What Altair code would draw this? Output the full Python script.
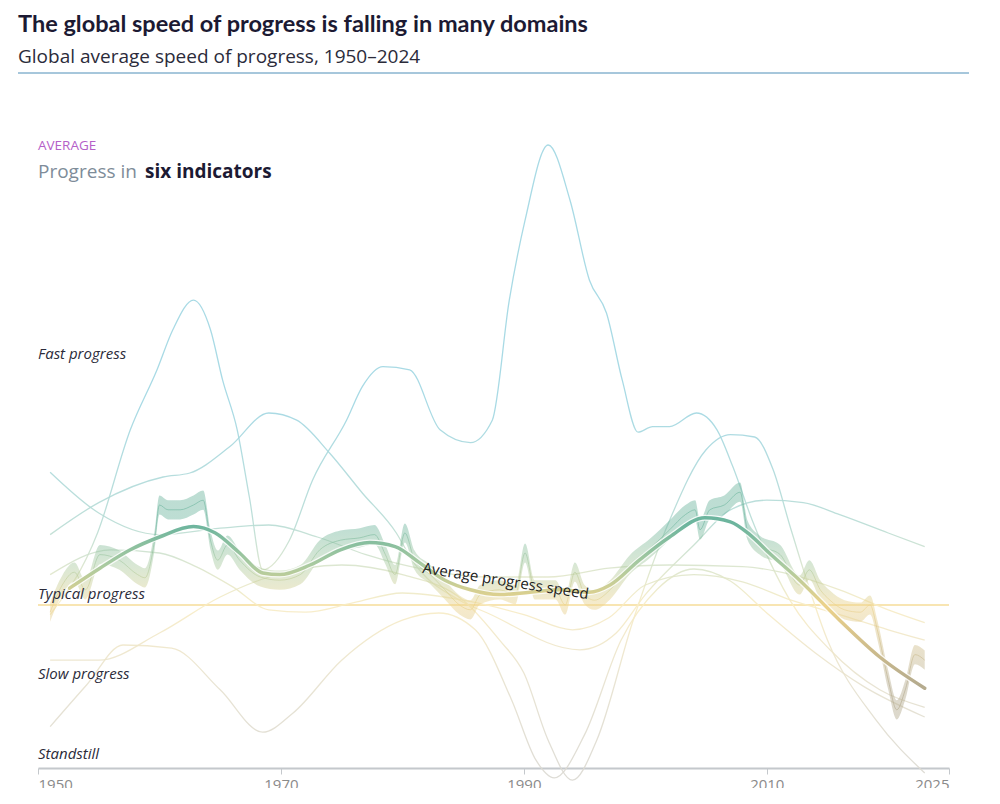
"""Global average speed of progress, 1950-2024."""

import altair as alt
import pandas as pd

# six indicators: (years, speed values)
L1_YEARS = [1951, 1954.9, 1957.6, 1959.8, 1961.1, 1962.8, 1964.2, 1965.2, 1966.4, 1967.4, 1968.5, 1970.7, 1972.6,
            1975.4, 1976.7, 1978.4, 1980.6, 1983.1, 1985.6, 1987.4, 1988.8, 1990.1, 1992.0, 1993.8, 1995.4, 1996.8,
            1998.1, 1999.4, 2000.6, 2002.0, 2004.2, 2005.9, 2007.2, 2008.8, 2011.9, 2015.2, 2019.3, 2023]
L1_VALUES = [1.88, 2.9, 4.19, 4.94, 5.44, 5.81, 5.44, 4.81, 4.19, 3.35, 2.44, 2.81, 3.56,
             4.31, 4.73, 4.98, 4.94, 4.19, 4.03, 4.31, 5.81, 6.81, 7.75, 7.06, 6.06, 5.65,
             4.81, 4.16, 4.23, 4.23, 4.40, 4.19, 3.73, 3.06, 2.06, 1.44, 0.94, 0.72]
L2_YEARS = [1951, 1954, 1957, 1961, 1965, 1968.5, 1971, 1975, 1980, 1983, 1986, 1989, 1991, 1992.5, 1995, 1998,
            2001, 2004, 2007, 2010, 2014, 2018, 2023]
L2_VALUES = [0.48, 1.0, 1.5, 1.46, 0.94, 0.41, 0.65, 1.31, 1.81, 1.9, 1.69, 0.81, 0.06, -0.16, 0.38, 1.56,
             2.2, 2.45, 2.3, 1.9, 1.4, 0.98, 0.6]
L3_YEARS = [1951, 1955, 1960, 1965, 1969, 1975, 1980, 1985, 1988, 1990, 1992, 1994, 1996, 1999, 2002, 2005,
            2007, 2009, 2010.5, 2012, 2015, 2019, 2023]
L3_VALUES = [1.31, 1.31, 1.65, 2.1, 2.35, 2.5, 2.38, 2.06, 1.56, 1.15, 0.31, -0.19, 0.31, 1.81, 3.06, 3.94,
             4.13, 4.1, 3.7, 2.94, 1.56, 0.56, -0.1]
L4_YEARS = [1951, 1955, 1960, 1965, 1969, 1973, 1977, 1982, 1987, 1992, 1997, 2002, 2008, 2012, 2016, 2020, 2023]
L4_VALUES = [3.66, 3.15, 2.88, 2.96, 3.0, 2.85, 2.63, 2.44, 2.35, 2.35, 2.46, 2.5, 2.48, 2.38, 2.19, 1.94, 1.78]
L5_YEARS = [1951, 1955, 1960.3, 1962.5, 1965.8, 1969, 1971.3, 1974, 1976.7, 1979.5, 1980.8, 1984.7, 1987, 1994.6,
            1997.6, 2000, 2004, 2007, 2010, 2013, 2016, 2020, 2023]
L5_VALUES = [2.88, 3.28, 3.6, 3.65, 3.98, 4.4, 4.31, 3.9, 3.4, 2.9, 2.56, 2.06, 1.9, 1.44,
             1.65, 2.13, 2.75, 3.19, 3.31, 3.28, 3.13, 2.9, 2.73]
L6_YEARS = [1951, 1956, 1960, 1963, 1966, 1969, 1972, 1976, 1980, 1985, 1990, 1994, 1997, 2000, 2004, 2008,
            2012, 2016, 2020, 2023]
L6_VALUES = [2.38, 2.69, 2.65, 2.48, 2.23, 1.94, 1.91, 2.03, 2.15, 2.06, 1.88, 1.69, 1.84, 2.25, 2.38, 2.29,
             2.06, 1.88, 1.69, 1.56]

# smoothed average
AVG_YEARS = [1952.6, 1955.1, 1957.6, 1960.0, 1962.8, 1964.6, 1966.6, 1968.5, 1969.9, 1972.4, 1974.9, 1977.3,
             1979.4, 1981.4, 1983.5, 1985.6, 1988.0, 1990.5, 1993.0, 1995.4, 1997.1, 1999.5, 2002.0, 2004.9,
             2007.0, 2008.6, 2010.2, 2012.7, 2016.0, 2019.3, 2023.0]
AVG_VALUES = [2.21, 2.46, 2.69, 2.85, 2.98, 2.90, 2.65, 2.40, 2.38, 2.50, 2.69, 2.78,
              2.73, 2.53, 2.31, 2.19, 2.13, 2.16, 2.19, 2.16, 2.25, 2.56, 2.85, 3.09,
              3.04, 2.88, 2.65, 2.31, 1.81, 1.35, 0.96]

# raw yearly average
RAW_YEARS = [1951.0, 1952.0, 1953.0, 1953.9, 1955.1, 1956.7, 1958.2, 1958.8, 1959.6, 1960.0, 1960.7, 1961.7,
             1962.8, 1963.6, 1964.2, 1964.8, 1965.6, 1966.6, 1968.3, 1969.9, 1971.6, 1973.2, 1974.9, 1976.5,
             1977.7, 1978.6, 1979.4, 1980.2, 1981.0, 1982.3, 1983.5, 1984.7, 1985.6, 1986.4, 1988.0, 1989.3,
             1990.1, 1990.9, 1992.6, 1993.4, 1994.2, 1995.0, 1995.8, 1997.1, 1998.7, 2000.4, 2002.0, 2003.3,
             2004.1, 2004.5, 2005.3, 2006.5, 2007.8, 2008.4, 2009.4, 2011.1, 2012.7, 2013.5, 2014.4, 2015.2,
             2016.4, 2017.7, 2018.5, 2019.1, 2020.0, 2020.7, 2021.4, 2022.2, 2023.0]
RAW_VALUES = [1.91, 2.25, 2.41, 2.19, 2.63, 2.56, 2.38, 2.34, 2.81, 3.25, 3.19, 3.19,
              3.25, 3.31, 2.81, 2.56, 2.75, 2.56, 2.35, 2.31, 2.38, 2.69, 2.81, 2.84,
              2.88, 2.63, 2.38, 2.90, 2.56, 2.38, 2.19, 2.00, 1.94, 2.13, 2.19, 2.13,
              2.65, 2.19, 2.19, 2.00, 2.41, 2.13, 2.06, 2.19, 2.50, 2.71, 2.94, 3.13,
              3.19, 2.94, 3.19, 3.25, 3.41, 2.94, 2.75, 2.63, 2.25, 2.44, 2.19, 2.06,
              1.94, 1.91, 2.00, 1.69, 1.06, 0.69, 0.94, 1.38, 1.31]
RAW_SPREAD = 0.12

LEVEL_NAMES = ['Fast progress', 'Typical progress', 'Slow progress', 'Standstill']
LEVEL_VALUES = [5, 2, 1, 0]
TICK_YEARS = [1950, 1970, 1990, 2010, 2025]

LINE_COLOURS = [(-1, '#d2d2d2'), (1, '#e6e1cf'), (2, '#f8ecc4'), (3, '#b8dcd4'), (4.5, '#9fd6e2'), (9, '#9fd6e2')]
AVG_COLOURS = [(-1, '#a9a089'), (1, '#b5ab8e'), (2, '#ecd28a'), (2.5, '#a9caa0'), (3.0, '#6db59e'), (9, '#5fae98')]
FONT = 'Open Sans'


def mix(c1, c2, t):
    a = [int(c1[i:i + 2], 16) for i in (1, 3, 5)]
    b = [int(c2[i:i + 2], 16) for i in (1, 3, 5)]
    return '#' + ''.join(f'{round(x + (y - x) * t):02x}' for x, y in zip(a, b))


def colour_at(v, anchors):
    for (v1, c1), (v2, c2) in zip(anchors, anchors[1:]):
        if v1 <= v <= v2:
            return mix(c1, c2, (v - v1) / (v2 - v1))
    return anchors[-1][1]


def gradient(lo, hi, anchors):
    """Vertical gradient over the mark's box so colour follows the absolute value."""
    stops = [{'offset': 0, 'color': colour_at(hi, anchors)}]
    for v, c in reversed(anchors):
        if lo < v < hi:
            stops.append({'offset': (hi - v) / (hi - lo), 'color': c})
    stops.append({'offset': 1, 'color': colour_at(lo, anchors)})
    return {'gradient': 'linear', 'x1': 0, 'y1': 0, 'x2': 0, 'y2': 1, 'stops': stops}


x_scale = alt.Scale(domain=[1950, 2025], nice=False)
y_scale = alt.Scale(domain=[-0.0375, 8.5], nice=False)
X = alt.X('year:Q', scale=x_scale, title=None, axis=alt.Axis(
    values=TICK_YEARS, format='d', grid=False, labelFlush=True,
    labelFont=FONT, labelFontSize=15, labelColor='#8a8a8a', labelPadding=3,
    domainColor='#c4c8cc', domainWidth=2, tickColor='#c4c8cc', tickSize=6))
Y = alt.Y('value:Q', scale=y_scale, axis=None)

layers = []

typical = pd.DataFrame({'year': [1950, 2025], 'value': [2, 2]})
layers.append(alt.Chart(typical).mark_line(color='#f6dc98', strokeWidth=1.5).encode(x=X, y=Y))

for years, values in [(L1_YEARS, L1_VALUES), (L2_YEARS, L2_VALUES), (L3_YEARS, L3_VALUES),
                      (L4_YEARS, L4_VALUES), (L5_YEARS, L5_VALUES), (L6_YEARS, L6_VALUES)]:
    df = pd.DataFrame({'year': years, 'value': values})
    layers.append(alt.Chart(df).mark_line(
        interpolate='monotone', strokeWidth=1.3, opacity=0.9,
        color=gradient(min(values), max(values), LINE_COLOURS)
    ).encode(x=X, y=Y))

raw = pd.DataFrame({'year': RAW_YEARS, 'value': RAW_VALUES})
raw['lo'] = raw['value'] - RAW_SPREAD
raw['hi'] = raw['value'] + RAW_SPREAD
layers.append(alt.Chart(raw).mark_area(
    interpolate='monotone', opacity=0.45,
    color=gradient(raw['lo'].min(), raw['hi'].max(), AVG_COLOURS)
).encode(x=X, y=alt.Y('lo:Q', scale=y_scale, axis=None), y2='hi:Q'))
layers.append(alt.Chart(raw).mark_line(
    interpolate='monotone', strokeWidth=1, opacity=0.6,
    color=gradient(min(RAW_VALUES), max(RAW_VALUES), AVG_COLOURS)
).encode(x=X, y=Y))

avg = pd.DataFrame({'year': AVG_YEARS, 'value': AVG_VALUES})
layers.append(alt.Chart(avg).mark_line(
    interpolate='monotone', strokeWidth=6, color='white', opacity=0.8
).encode(x=X, y=Y))
layers.append(alt.Chart(avg).mark_line(
    interpolate='monotone', strokeWidth=3.5, strokeCap='round',
    color=gradient(min(AVG_VALUES), max(AVG_VALUES), AVG_COLOURS)
).encode(x=X, y=Y))

levels = pd.DataFrame({'name': LEVEL_NAMES, 'value': LEVEL_VALUES, 'year': [1950] * 4})
layers.append(alt.Chart(levels).mark_text(
    align='left', baseline='bottom', dy=-3, font=FONT, fontSize=15, fontStyle='italic', color='#2b2b3a'
).encode(x=X, y=Y, text='name'))

avg_label = pd.DataFrame({'year': [1988.5], 'value': [2.3], 'label': ['Average progress speed']})
layers.append(alt.Chart(avg_label).mark_text(
    font=FONT, fontSize=15, angle=9, color='#222'
).encode(x=X, y=Y, text='label'))

anchor_df = pd.DataFrame({'year': [1950], 'value': [0]})


def note(text, x, y, size, colour, weight='normal', font=FONT):
    return alt.Chart(anchor_df).mark_text(
        text=text, align='left', baseline='middle', font=font, fontSize=size, fontWeight=weight, color=colour
    ).encode(x=alt.value(x), y=alt.value(y))


layers.append(note('The global speed of progress is falling in many domains', -20, -60, 23.5, '#1c1a33', 'bold', 'Lato'))
layers.append(note('Global average speed of progress, 1950–2024', -20, -28, 19, '#2b2b3a'))
layers.append(alt.Chart(anchor_df).mark_rule(color='#4f8fb8', strokeWidth=1).encode(
    x=alt.value(-20), x2=alt.value(937), y=alt.value(-12)))
layers.append(note('AVERAGE', 0, 61, 13.5, '#b560c8'))
layers.append(note('Progress in', 0, 87, 19, '#7e8c99'))
layers.append(note('six indicators', 107, 87, 19, '#1c1a33', 'bold'))

chart = alt.layer(*layers).properties(
    width=911, height=683,
    autosize=alt.AutoSizeParams(type='none'),
    padding={'left': 30, 'top': 77, 'right': 20, 'bottom': 20},
).configure_view(stroke=None)

chart.save('out.html', embed_options={'renderer': 'svg', 'actions': False})
